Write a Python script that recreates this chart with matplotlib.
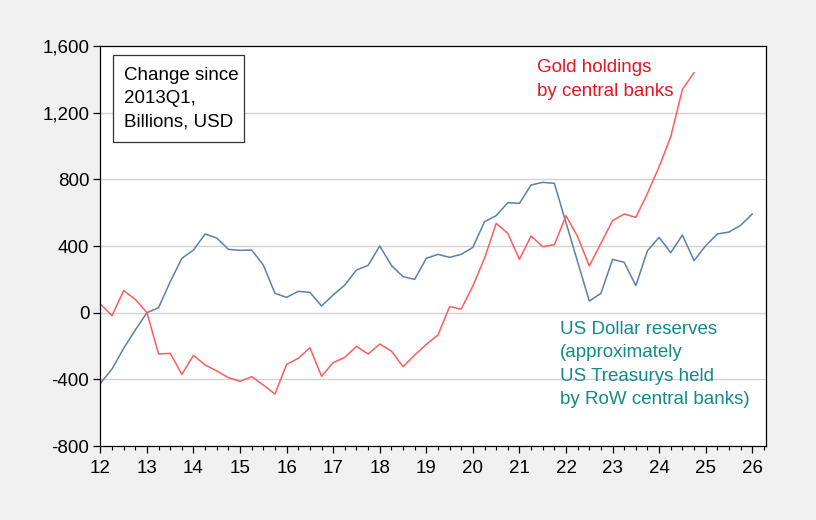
import matplotlib
matplotlib.use("Agg")
import matplotlib.pyplot as plt
from matplotlib.ticker import FuncFormatter, MultipleLocator
from matplotlib.patches import Rectangle
import pandas as pd

plt.rcParams['font.family'] = ['Liberation Sans', 'DejaVu Sans']

# Change since 2013Q1, billions USD, quarterly from 2012Q1
usd_reserves = [-424, -338, -214, -104, 0, 30, 186, 326, 376, 472, 448, 380, 374, 376,
                286, 116, 92, 128, 122, 40, 106, 166, 256, 284, 400, 284, 216, 200,
                326, 350, 332, 350, 392, 546, 582, 660, 656, 766, 782, 776, 540, 305,
                70, 116, 320, 302, 162, 372, 452, 360, 466, 312, 402, 472, 484, 524, 592]
gold_holdings = [52, -18, 132, 80, 0, -248, -244, -370, -256, -314, -350, -390, -412, -384,
                 -434, -488, -310, -274, -210, -382, -300, -268, -202, -248, -188, -230, -324, -254,
                 -190, -134, 36, 22, 160, 326, 536, 476, 320, 460, 396, 408, 582, 456,
                 280, 416, 552, 592, 572, 716, 876, 1056, 1340, 1440]
start_quarter = '2012Q1'
year_ticks = list(range(2012, 2027))
year_labels = [f"{y % 100:02d}" for y in year_ticks]
y_ticks = [-800, -400, 0, 400, 800, 1200, 1600]


def qpos(n):
    per = pd.period_range(start_quarter, periods=n, freq='Q')
    return [p.year + (p.quarter - 1) / 4 for p in per]


fig = plt.figure(figsize=(8.16, 5.2), dpi=100, facecolor='#F0F0F0')
ax = fig.add_axes([0.123, 0.1423, 0.816, 0.7692])
ax.set_facecolor('white')

ax.plot(qpos(len(usd_reserves)), usd_reserves, color='#5B80AD', lw=1.1)
ax.plot(qpos(len(gold_holdings)), gold_holdings, color='#FF5C5C', lw=1.1)

ax.set_xlim(2012, 2026.30)
ax.set_ylim(-800, 1600)
ax.set_yticks(y_ticks)
ax.yaxis.set_major_formatter(FuncFormatter(lambda v, p: f"{int(v):,}"))
ax.set_xticks(year_ticks)
ax.set_xticklabels(year_labels)
ax.xaxis.set_minor_locator(MultipleLocator(0.25))

for yv in y_ticks[1:-1]:
    ax.axhline(yv, color='#D3D3D3', lw=1.0, zorder=0)

for s in ax.spines.values():
    s.set_color('black')
    s.set_linewidth(0.9)

ax.tick_params(axis='both', which='major', direction='out', length=5, width=0.9,
               labelsize=13.5, colors='black')
ax.tick_params(axis='x', which='minor', direction='out', length=3, width=0.8)
ax.tick_params(axis='x', which='major', pad=5)
ax.tick_params(axis='y', which='major', pad=3)

# Text box
ax.add_patch(Rectangle((0.0189, 0.76), 0.1968, 0.2175, transform=ax.transAxes,
                       facecolor='white', edgecolor='#333333', lw=0.9, zorder=5))
ax.text(0.036, 0.948, "Change since\n2013Q1,\nBillions, USD", transform=ax.transAxes,
        fontsize=13.5, va='top', ha='left', linespacing=1.5, zorder=6, color='black')

ax.text(0.656, 0.967, "Gold holdings\nby central banks", transform=ax.transAxes,
        fontsize=13.5, va='top', ha='left', color='#E8141E', linespacing=1.5)
ax.text(0.6905, 0.313, "US Dollar reserves\n(approximately\nUS Treasurys held\nby RoW central banks)",
        transform=ax.transAxes, fontsize=13.5, va='top', ha='left', color='#138A8A',
        linespacing=1.5)

fig.savefig('out.png', dpi=100, facecolor=fig.get_facecolor())
